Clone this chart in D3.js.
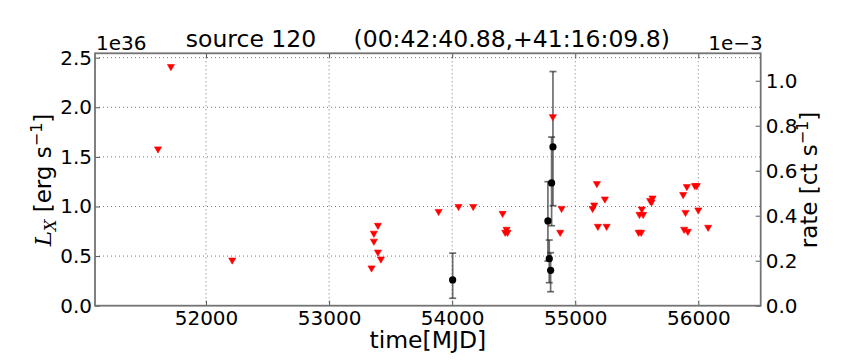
<!DOCTYPE html>
<html>
<head>
<meta charset="utf-8">
<script src="https://cdn.jsdelivr.net/npm/d3@7"></script>
<style>
  body { margin: 0; background: #fff; }
  text { font-family: "DejaVu Sans", sans-serif; fill: #000; }
</style>
</head>
<body>
<svg id="chart" width="864" height="360"></svg>
<script>
// upper limits (red down-triangles), L_X in 1e36 erg/s
const ulMjd = [51610, 51715, 52213, 53345, 53364, 53364, 53397, 53397, 53421, 53890,
  54052, 54171, 54410, 54442, 54431, 54450, 54818, 54889, 54878, 55176,
  55241, 55154, 55141, 55184, 55255, 55541, 55522, 55552, 55515, 55536,
  55609, 55628, 55620, 55877, 55907, 55972, 55988, 55896, 56000, 55885,
  55915, 56080];
const ulLx = [1.58, 2.41, 0.46, 0.38, 0.65, 0.73, 0.81, 0.54, 0.47, 0.95,
  1.00, 1.00, 0.93, 0.77, 0.74, 0.74, 1.905, 0.98, 0.74, 1.23,
  1.075, 1.015, 0.98, 0.80, 0.80, 0.975, 0.92, 0.92, 0.74, 0.74,
  1.06, 1.085, 1.045, 1.12, 1.20, 1.21, 1.21, 0.94, 0.965, 0.77,
  0.75, 0.79];

// detections (black points with error bars)
const detMjd = [54004, 54819, 54808, 54778, 54789, 54800];
const detLx = [0.26, 1.60, 1.237, 0.854, 0.474, 0.357];
const detLo = [0.075, 1.008, 0.806, 0.45, 0.232, 0.141];
const detHi = [0.53, 2.36, 1.70, 1.25, 0.662, 0.534];

const xTicks = [52000, 53000, 54000, 55000, 56000];
const yLeftTicks = [0, 0.5, 1.0, 1.5, 2.0, 2.5];
const yRightTicks = [0, 0.2, 0.4, 0.6, 0.8, 1.0];

const svg = d3.select("#chart");
const pL = 95, pR = 760.7, pT = 53.3, pB = 305.7;

const x = d3.scaleLinear().domain([51098, 56507]).range([pL, pR]);
const yL = d3.scaleLinear().domain([0, 2.544]).range([pB, pT]);
const yR = d3.scaleLinear().domain([0, 1.122]).range([pB, pT]);

// grid
const grid = svg.append("g").attr("id", "grid");
grid.selectAll("line.gx").data(xTicks).join("line")
  .attr("x1", d => x(d)).attr("x2", d => x(d))
  .attr("y1", pT).attr("y2", pB)
  .attr("stroke", "#777").attr("stroke-width", 1).attr("stroke-dasharray", "1 3");
grid.selectAll("line.gy").data(yLeftTicks.slice(1)).join("line")
  .attr("x1", pL).attr("x2", pR)
  .attr("y1", d => yL(d)).attr("y2", d => yL(d))
  .attr("stroke", "#777").attr("stroke-width", 1).attr("stroke-dasharray", "1 3");

// error bars
const det = detMjd.map((m, i) => ({ m, v: detLx[i], lo: detLo[i], hi: detHi[i] }));
const eb = svg.append("g").attr("id", "errorbars")
  .attr("stroke", "#222").attr("stroke-opacity", 0.65).attr("stroke-width", 1.7);
det.forEach(d => {
  eb.append("line").attr("x1", x(d.m)).attr("x2", x(d.m))
    .attr("y1", yL(d.lo)).attr("y2", yL(d.hi));
  [d.lo, d.hi].forEach(v => {
    eb.append("line").attr("x1", x(d.m) - 3.5).attr("x2", x(d.m) + 3.5)
      .attr("y1", yL(v)).attr("y2", yL(v));
  });
});

svg.append("g").selectAll("circle").data(det).join("circle")
  .attr("cx", d => x(d.m)).attr("cy", d => yL(d.v))
  .attr("r", 3.6).attr("fill", "#000");

// upper limits
const tri = d3.symbol().type(d3.symbolTriangle).size(22);
svg.append("g").selectAll("path").data(ulMjd.map((m, i) => ({ m, v: ulLx[i] }))).join("path")
  .attr("d", tri)
  .attr("transform", d => `translate(${x(d.m)},${yL(d.v)}) rotate(180)`)
  .attr("fill", "#ff0000").attr("stroke", "#ff0000").attr("stroke-width", 0.6);

// axes
function styleAxis(g) {
  g.select(".domain").remove();
  g.selectAll(".tick line").attr("stroke", "#555").attr("stroke-width", 1);
  g.selectAll(".tick text").style("font-size", "20px");
}

svg.append("g").attr("transform", `translate(0,${pB})`)
  .call(d3.axisBottom(x).tickValues(xTicks).tickFormat(d3.format("d"))
    .tickSizeInner(-5).tickSizeOuter(0).tickPadding(5))
  .call(styleAxis);
svg.append("g").attr("transform", `translate(0,${pT})`)
  .call(d3.axisTop(x).tickValues(xTicks).tickFormat("")
    .tickSizeInner(-5).tickSizeOuter(0))
  .call(styleAxis);
svg.append("g").attr("transform", `translate(${pL},0)`)
  .call(d3.axisLeft(yL).tickValues(yLeftTicks).tickFormat(d3.format(".1f"))
    .tickSizeInner(-5).tickSizeOuter(0).tickPadding(3))
  .call(styleAxis);
svg.append("g").attr("transform", `translate(${pR},0)`)
  .call(d3.axisRight(yR).tickValues(yRightTicks).tickFormat(d3.format(".1f"))
    .tickSizeInner(-5).tickSizeOuter(0).tickPadding(5))
  .call(styleAxis);

// spines
svg.append("rect").attr("x", pL).attr("y", pT)
  .attr("width", pR - pL).attr("height", pB - pT)
  .attr("fill", "none").attr("stroke", "#737373").attr("stroke-width", 1.8);

// texts
svg.append("text").attr("x", (pL + pR) / 2).attr("y", 47)
  .attr("text-anchor", "middle").style("font-size", "23.5px")
  .style("white-space", "pre")
  .text("source 120     (00:42:40.88,+41:16:09.8)");

svg.append("text").attr("x", pL + 1).attr("y", 50).style("font-size", "20px").text("1e36");
svg.append("text").attr("x", pR + 2).attr("y", 50).attr("text-anchor", "end")
  .style("font-size", "20px").text("1e\u22123");

svg.append("text").attr("x", (pL + pR) / 2).attr("y", 348)
  .attr("text-anchor", "middle").style("font-size", "23.5px").text("time[MJD]");

const yl = svg.append("text").attr("transform", "translate(51,180) rotate(-90)")
  .attr("text-anchor", "middle").style("font-size", "23px");
yl.append("tspan").style("font-style", "italic").style("font-family", "DejaVu Serif").text("L");
yl.append("tspan").attr("dy", 5).style("font-style", "italic").style("font-size", "16px")
  .style("font-family", "DejaVu Serif").text("X");
yl.append("tspan").attr("dy", -5).text(" [erg s");
yl.append("tspan").attr("dy", -9).style("font-size", "16px").text("\u22121");
yl.append("tspan").attr("dy", 9).text("]");

const yr = svg.append("text").attr("transform", "translate(817,180) rotate(-90)")
  .attr("text-anchor", "middle").style("font-size", "23px");
yr.append("tspan").text("rate [ct s");
yr.append("tspan").attr("dy", -9).style("font-size", "16px").text("\u22121");
yr.append("tspan").attr("dy", 9).text("]");
</script>
</body>
</html>
